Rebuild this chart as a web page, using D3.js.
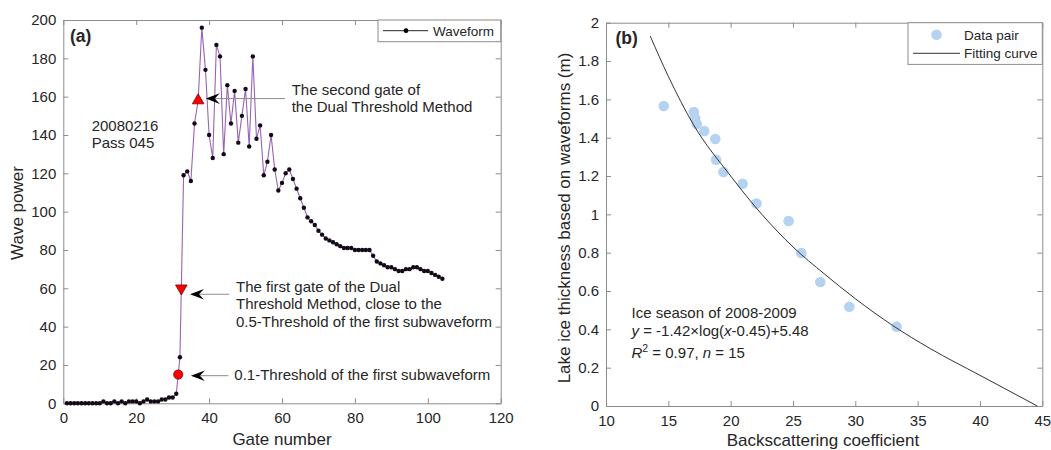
<!doctype html>
<html>
<head>
<style>
  body { margin:0; background:#fff; font-family:"Liberation Sans", Arial, sans-serif; }
  svg text { fill:#262626; }
  .axis path, .axis line { stroke:#8c8c8c; }
</style>
<script src="https://cdnjs.cloudflare.com/ajax/libs/d3/7.8.5/d3.min.js"></script>
</head>
<body>
<svg id="chart" width="1051" height="450"></svg>
<script>
// panel (a): waveform, gates 1..104
var power = [0,0,0,0,0,0,0,0,0,0,
             1,0,0,1,0,1,0,1,1,1,
             0,1,2,1,1,1,2,2,3,3,
             5,24,119,121,116,146,158,196,174,140,
             128,187,181,130,166,146,163,136,150,164,
             134,181,138,145,119,126,140,122,111,115,
             120,122,117,112,107,102,97,95,93,90,
             88,86,85,84,83,82,81,81,81,80,
             80,80,80,80,77,74,73,72,71,71,
             70,69,69,70,70,71,71,70,69,69,
             68,67,66,65];
var gates = power.map(function(d, i) { return i + 1; });

// red markers: 0.1-threshold, first gate, second gate
var markGate  = [31.53, 32.38, 37];
var markPower = [15, 60, 158];
var markShape = ["circle", "down", "up"];

// panel (b): data pairs and fitting curve
var backscatter = [14.63,17.04,17.15,17.28,17.88,18.77,18.83,19.42,20.96,22.07,24.65,25.67,27.19,29.52,33.31];
var thickness   = [1.565,1.534,1.501,1.471,1.435,1.393,1.285,1.221,1.160,1.056,0.965,0.798,0.647,0.518,0.414];
var fitX = [13.55,15,17,20,22.5,25,27.5,30,33,36,40,44.6];
var fitY = [1.93,1.72,1.47,1.20,1.00,0.83,0.69,0.56,0.42,0.30,0.16,0.00];

var xTicksA = [0,20,40,60,80,100,120];
var yTicksA = [0,20,40,60,80,100,120,140,160,180,200];
var xTicksB = [10,15,20,25,30,35,40,45];
var yTicksB = [0,0.2,0.4,0.6,0.8,1,1.2,1.4,1.6,1.8,2];

var svg = d3.select("#chart");

var xA = d3.scaleLinear().domain([0,120]).range([63.3,500.7]);
var yA = d3.scaleLinear().domain([0,200]).range([403.3,20]);
var xB = d3.scaleLinear().domain([10,45]).range([606,1042.3]);
var yB = d3.scaleLinear().domain([0,2]).range([406,22.7]);

function drawAxes(x, y, xt, yt, fmt) {
    var x0 = x.range()[0], x1 = x.range()[1], y0 = y.range()[0], y1 = y.range()[1];
    svg.append("g").attr("class","axis")
        .attr("transform","translate(0," + y0 + ")")
        .call(d3.axisBottom(x).tickValues(xt).tickSizeInner(-5).tickSizeOuter(0).tickPadding(9))
        .call(function(g) { g.selectAll("text").style("font-size","15px").attr("fill","#262626"); });
    svg.append("g").attr("class","axis")
        .attr("transform","translate(0," + y1 + ")")
        .call(d3.axisTop(x).tickValues(xt).tickSizeInner(-5).tickSizeOuter(0).tickFormat(""));
    svg.append("g").attr("class","axis")
        .attr("transform","translate(" + x0 + ",0)")
        .call(d3.axisLeft(y).tickValues(yt).tickSizeInner(-5).tickSizeOuter(0).tickPadding(7).tickFormat(fmt))
        .call(function(g) { g.selectAll("text").style("font-size","15px").attr("fill","#262626"); });
    svg.append("g").attr("class","axis")
        .attr("transform","translate(" + x1 + ",0)")
        .call(d3.axisRight(y).tickValues(yt).tickSizeInner(-5).tickSizeOuter(0).tickFormat(""));
    svg.selectAll(".axis").attr("font-family", null);
}

drawAxes(xA, yA, xTicksA, yTicksA, d3.format("d"));
drawAxes(xB, yB, xTicksB, yTicksB, function(d) { return String(+d.toFixed(1)); });

// ---- panel (a)
var wave = gates.map(function(g, i) { return [g, power[i]]; });
svg.append("path")
    .datum(wave)
    .attr("fill","none")
    .attr("stroke","#9a62b5")
    .attr("stroke-width",1.1)
    .attr("d", d3.line().x(function(d) { return xA(d[0]); }).y(function(d) { return yA(d[1]); }));

svg.append("g").selectAll("circle")
    .data(wave)
    .enter().append("circle")
    .attr("cx", function(d) { return xA(d[0]); })
    .attr("cy", function(d) { return yA(d[1]); })
    .attr("r", 2.2)
    .attr("fill", "#120a16");

markGate.forEach(function(g, i) {
    var p = svg.append("path")
        .attr("fill","#ff0000")
        .attr("stroke","#7a0000")
        .attr("stroke-width",0.8);
    if (markShape[i] == "circle") {
        p.attr("d", d3.symbol(d3.symbolCircle, 66)())
         .attr("transform","translate(" + xA(g) + "," + yA(markPower[i]) + ")");
    } else {
        var rot = markShape[i] == "down" ? 180 : 0;
        p.attr("d", d3.symbol(d3.symbolTriangle, 58)())
         .attr("transform","translate(" + xA(g) + "," + yA(markPower[i]) + ") rotate(" + rot + ")");
    }
});

// annotation arrows: tip gate, tail gate, power
var arrows = [[39.1, 60.8, 159], [34.75, 45.5, 56.9], [35.0, 45.3, 14.4]];
arrows.forEach(function(a) {
    var tx = xA(a[0]), ex = xA(a[1]), ay = yA(a[2]);
    svg.append("line")
        .attr("x1", tx + 8).attr("x2", ex)
        .attr("y1", ay).attr("y2", ay)
        .attr("stroke","#8c8c8c").attr("stroke-width",1);
    svg.append("path")
        .attr("d","M0,0L14,-5.3L9,0L14,5.3Z")
        .attr("fill","#000")
        .attr("transform","translate(" + tx + "," + ay + ")");
});

function addText(x, y, str, size, weight) {
    return svg.append("text")
        .attr("x", x).attr("y", y)
        .style("font-size", size + "px")
        .style("font-weight", weight || "normal")
        .text(str);
}

addText(291.7, 95, "The second gate of", 15);
addText(291.7, 112.3, "the Dual Threshold Method", 15);
addText(236, 292, "The first gate of the Dual", 15);
addText(236, 309.3, "Threshold Method, close to the", 15);
addText(236, 326.6, "0.5-Threshold of the first subwaveform", 15);
addText(234.3, 380, "0.1-Threshold of the first subwaveform", 15);
addText(91.7, 131, "20080216", 15);
addText(91.7, 148.3, "Pass 045", 15);
addText(70, 41.5, "(a)", 17.5, "bold");

addText(282, 445, "Gate number", 17).attr("text-anchor","middle");
svg.append("text")
    .attr("transform","translate(23,213) rotate(-90)")
    .attr("text-anchor","middle")
    .style("font-size","17px")
    .text("Wave power");

// legend (a)
svg.append("rect").attr("x",378).attr("y",20).attr("width",122.7).attr("height",21.7)
    .attr("fill","#fff").attr("stroke","#8c8c8c");
svg.append("line").attr("x1",383).attr("x2",428).attr("y1",30.7).attr("y2",30.7)
    .attr("stroke","#262626").attr("stroke-width",1);
svg.append("circle").attr("cx",406).attr("cy",30.7).attr("r",2.4).attr("fill","#000");
addText(433, 35.7, "Waveform", 13.5);

// ---- panel (b)
var fit = fitX.map(function(x, i) { return [x, fitY[i]]; });

svg.append("g").selectAll("circle")
    .data(backscatter)
    .enter().append("circle")
    .attr("cx", function(d) { return xB(d); })
    .attr("cy", function(d, i) { return yB(thickness[i]); })
    .attr("r", 5.3)
    .attr("fill", "#b5d2f1");

svg.append("path")
    .datum(fit)
    .attr("fill","none")
    .attr("stroke","#333")
    .attr("stroke-width",1)
    .attr("d", d3.line().curve(d3.curveMonotoneX)
        .x(function(d) { return xB(d[0]); }).y(function(d) { return yB(d[1]); }));

addText(615.5, 43.5, "(b)", 17.5, "bold");

addText(631.5, 318.3, "Ice season of 2008-2009", 15);
var eq = addText(631.5, 336, "", 15);
eq.append("tspan").style("font-style","italic").text("y");
eq.append("tspan").text(" = -1.42×log(");
eq.append("tspan").style("font-style","italic").text("x");
eq.append("tspan").text("-0.45)+5.48");
var r2 = addText(631.5, 358, "", 15);
r2.append("tspan").style("font-style","italic").text("R");
r2.append("tspan").attr("dy",-6).style("font-size","10.5px").text("2");
r2.append("tspan").attr("dy",6).text(" = 0.97, ");
r2.append("tspan").style("font-style","italic").text("n");
r2.append("tspan").text(" = 15");

addText(823, 446, "Backscattering coefficient", 17).attr("text-anchor","middle");
svg.append("text")
    .attr("transform","translate(570,218) rotate(-90)")
    .attr("text-anchor","middle")
    .style("font-size","17px")
    .text("Lake ice thickness based on waveforms (m)");

// legend (b)
svg.append("rect").attr("x",908).attr("y",22.7).attr("width",134.3).attr("height",41.7)
    .attr("fill","#fff").attr("stroke","#8c8c8c");
svg.append("circle").attr("cx",936.5).attr("cy",34.8).attr("r",5.3).attr("fill","#b5d2f1");
svg.append("line").attr("x1",913).attr("x2",960).attr("y1",53.3).attr("y2",53.3)
    .attr("stroke","#333").attr("stroke-width",1);
addText(964, 39.8, "Data pair", 13.5);
addText(964, 58.3, "Fitting curve", 13.5);
</script>
</body>
</html>
